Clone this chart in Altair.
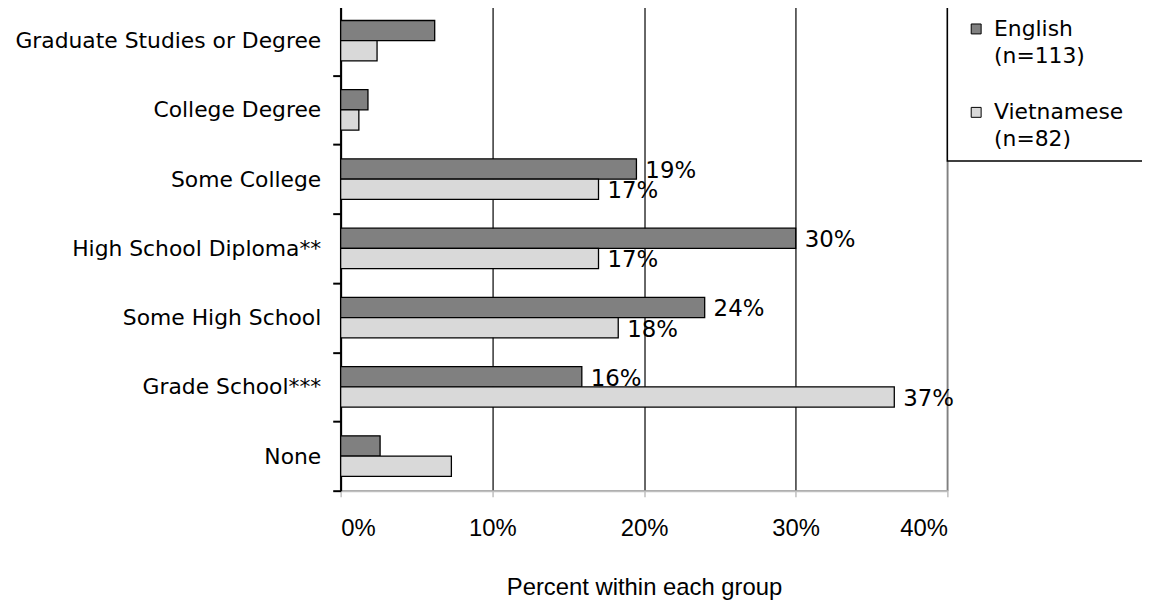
import altair as alt
import pandas as pd

categories = ["Graduate Studies or Degree", "College Degree", "Some College",
              "High School Diploma**", "Some High School", "Grade School***", "None"]
english = [6.2, 1.8, 19.5, 30.0, 24.0, 15.9, 2.6]
vietnamese = [2.4, 1.2, 17.0, 17.0, 18.3, 36.5, 7.3]
english_labels = ["", "", "19%", "30%", "24%", "16%", ""]
vietnamese_labels = ["", "", "17%", "17%", "18%", "37%", ""]
series = ["English", "Vietnamese"]
series_colors = ["#808080", "#d9d9d9"]
legend_texts = ["English\n(n=113)", "Vietnamese\n(n=82)"]
x_ticks = [0, 10, 20, 30, 40]

rows = []
for i, c in enumerate(categories):
    rows.append({"cat": c, "series": "English", "value": english[i], "label": english_labels[i]})
    rows.append({"cat": c, "series": "Vietnamese", "value": vietnamese[i], "label": vietnamese_labels[i]})
df = pd.DataFrame(rows)

FONT = "DejaVu Sans"
AXFONT = "Liberation Sans"
W, H = 611, 488

y_enc = alt.Y("cat:N", sort=categories, title=None,
              scale=alt.Scale(paddingInner=0, paddingOuter=0),
              axis=alt.Axis(tickBand="extent", domainColor="black", domainWidth=2,
                            tickColor="black", tickWidth=2, tickSize=8,
                            labelFont=FONT, labelFontSize=22, labelColor="black",
                            labelPadding=12, labelLimit=400))
yoff = alt.YOffset("series:N", sort=series,
                   scale=alt.Scale(paddingInner=0, paddingOuter=0.71))
x_enc = alt.X("value:Q", title="Percent within each group",
              scale=alt.Scale(domain=[0, 40], nice=False),
              axis=alt.Axis(values=x_ticks, labelExpr="datum.value + '%'",
                            grid=True,
                            gridColor={"condition": {"test": "datum.value == 40", "value": "#808080"}, "value": "black"},
                            gridWidth=1.2,
                            domainColor="#bfbfbf", domainWidth=2,
                            tickColor="#bfbfbf", tickWidth=1.5, tickSize=6,
                            labelFont=AXFONT, labelFontSize=24, labelColor="black",
                            labelPadding=20,
                            titleFont=AXFONT, titleFontSize=24, titleFontWeight="normal",
                            titleColor="black", titlePadding=36))

bars = alt.Chart(df).mark_bar(stroke="black", strokeWidth=1.3).encode(
    x=x_enc,
    y=y_enc,
    yOffset=yoff,
    fill=alt.Fill("series:N", sort=series,
                  scale=alt.Scale(domain=series, range=series_colors), legend=None),
)

texts = alt.Chart(df).mark_text(align="left", baseline="middle", dx=9, dy=2,
                                font=FONT, fontSize=23, color="black").encode(
    x="value:Q",
    y=alt.Y("cat:N", sort=categories),
    yOffset=alt.YOffset("series:N", sort=series),
    text="label:N",
)

# legend box (drawn manually, sits to the right of the plot area)
legend_df = pd.DataFrame({"series": series, "text": legend_texts})
box = alt.Chart(legend_df.head(1)).mark_rect(fill="white", stroke="black", strokeWidth=1.5).encode(
    x=alt.value(W), x2=alt.value(W + 300), y=alt.value(0), y2=alt.value(156))

legend_layers = [box]
sym_y = [23, 107]
txt_y = [30, 114]
for i, s in enumerate(series):
    d = legend_df.iloc[[i]]
    legend_layers.append(
        alt.Chart(d).mark_square(size=100, fill=series_colors[i], stroke="black",
                                 strokeWidth=1, opacity=1).encode(
            x=alt.value(W + 29), y=alt.value(sym_y[i])))
    legend_layers.append(
        alt.Chart(d).mark_text(align="left", baseline="alphabetic", lineBreak="\n",
                               lineHeight=27, font=FONT, fontSize=22, color="black").encode(
            x=alt.value(W + 47), y=alt.value(txt_y[i]), text="text:N"))

chart = alt.layer(bars, texts, *legend_layers).properties(
    width=W, height=H,
    autosize=alt.AutoSizeParams(type="none"),
    padding={"left": 335, "top": -4, "right": 196, "bottom": 110},
    background="white",
).configure_view(stroke="#808080", strokeWidth=1.5)

chart.save("out.html", embed_options={"renderer": "svg", "actions": False})
